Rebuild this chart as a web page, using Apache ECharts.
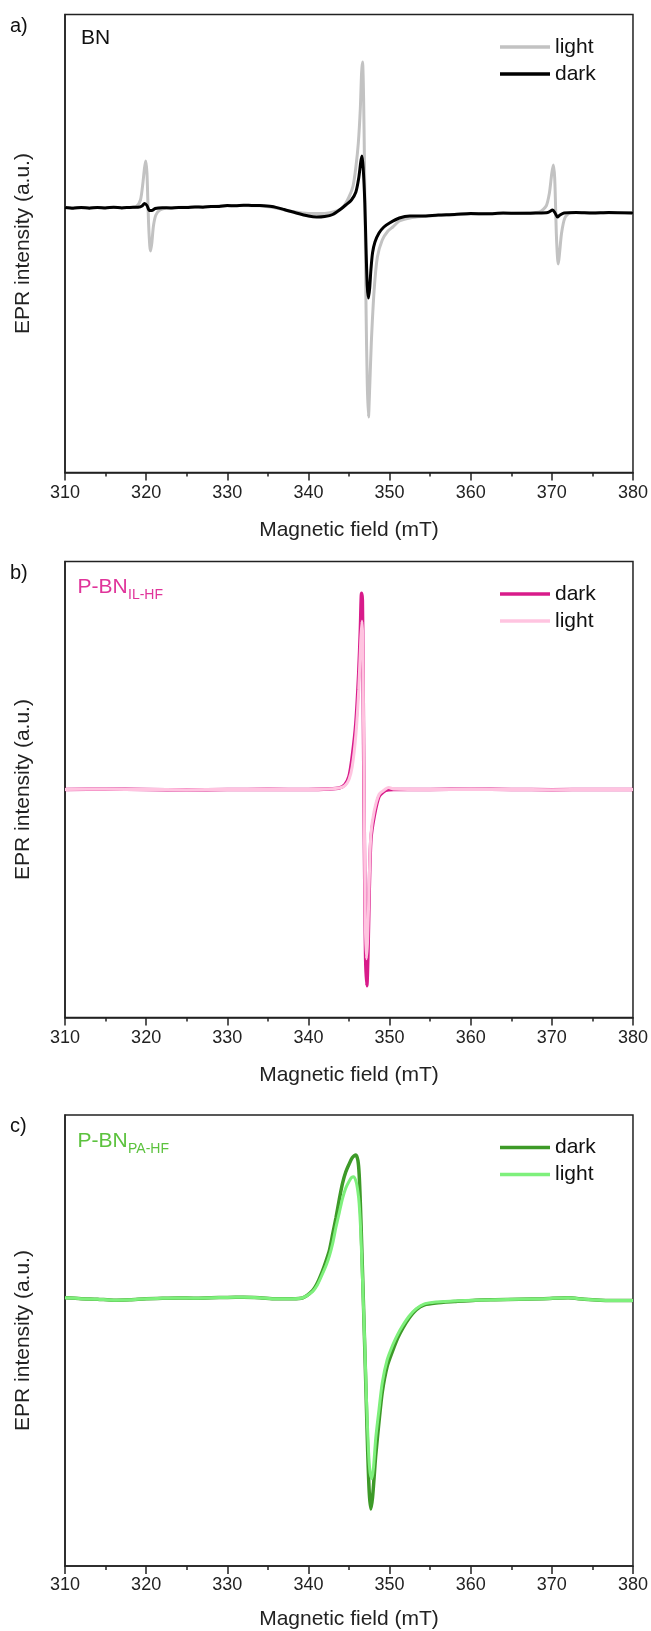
<!DOCTYPE html>
<html>
<head>
<meta charset="utf-8">
<script src="https://cdn.jsdelivr.net/npm/echarts@6/dist/echarts.min.js"></script>
<style>
  html, body { margin: 0; padding: 0; background: #fff; }
  #chart { width: 651px; height: 1631px; }
</style>
</head>
<body>
<div id="chart"></div>
<script>
// ---------------- DATA (magnetic field in mT, EPR intensity in a.u.) ----------------
const xTicks = [310, 320, 330, 340, 350, 360, 370, 380];

// Panel a) BN
const bnLight = [
  [310,0.5],[312,0.3],[314,0.6],[316,0.4],[318,0.5],[318.8,1.5],[319.3,8],[319.6,25],[319.8,40],[319.95,47],
  [320.1,35],[320.2,10],[320.3,-15],[320.45,-38],[320.55,-43],[320.7,-35],[320.9,-18],[321.2,-7],[321.7,-2],[322.5,0],
  [325,0.8],[328,1.5],[331,2.5],[334,2.3],[336,0],[338,-3.5],[340,-5.5],[342,-5.5],[343.5,-3],[344.3,1],
  [345,11],[345.5,22],[345.85,41],[346.15,65],[346.4,100],[346.55,135],[346.67,146],[346.8,110],[346.9,50],[347.0,-20],
  [347.1,-100],[347.25,-175],[347.4,-209],[347.55,-180],[347.75,-135],[348.1,-82],[348.5,-49],[349.1,-32],[349.8,-23],[350.4,-19],
  [351.2,-13],[352.5,-10],[354,-8.5],[356,-7.5],[360,-6],[364,-5.5],[367,-5],[368.5,-4],[369.3,2],[369.7,15],
  [370,35],[370.2,43],[370.35,30],[370.45,5],[370.55,-25],[370.7,-50],[370.8,-56],[370.95,-45],[371.2,-25],[371.6,-10],
  [372.2,-5],[373.5,-4.5],[376,-4.8],[380,-5]
];
const bnDark = [
  [310,0.5],[311,-0.3],[312,0.6],[313,-0.2],[314,0.5],[315,0],[316,0.8],[317,0.1],[318,0.6],[319,0.8],[319.5,2],[319.8,4.5],
  [320.1,2.5],[320.4,-2.5],[320.7,-2.5],[321.1,-0.5],[322,0.3],[323,0.1],[324,0.6],[325,0.4],[326,1],[327,0.8],[328,1.5],[329,1.6],
  [330,2.5],[331,2.2],[332,2.8],[333,2.6],[334,2.5],[335.5,1.5],[337,-1.5],[338.5,-5],[340,-8],[341,-9],[342,-8.5],[343,-6.5],
  [344,-1],[344.6,3],[345.3,8],[345.85,16],[346.2,30],[346.45,46],[346.6,52],[346.75,40],[346.95,5],[347.1,-40],
  [347.25,-78],[347.4,-90],[347.55,-80],[347.7,-62],[347.9,-45],[348.2,-34],[348.7,-25],[349.3,-19],[350,-15],[351.2,-10],
  [352.5,-8],[354,-8],[356,-7],[358,-6.5],[360,-5.5],[362,-5.8],[364,-5],[366,-5.3],[368,-5],[369.5,-4.5],
  [370.1,-2],[370.4,-5],[370.7,-9],[371.0,-7],[371.5,-5],[373,-4.5],[375,-5],[377,-4.5],[380,-5]
];

// Panel b) P-BN IL-HF
const ilDark = [
  [310,0],[315,0.3],[320,0],[325,-0.3],[330,0],[335,0.2],[340,0],[342.5,0.5],[343.8,1.5],[344.5,5],
  [345.0,13],[345.4,33],[345.85,67],[346.2,117],[346.4,160],[346.55,197],[346.65,190],[346.75,100],[346.85,-10],[346.95,-100],
  [347.05,-170],[347.2,-197],[347.35,-160],[347.5,-100],[347.7,-50],[348.1,-27],[348.7,-7],[349.5,-1],[350.5,0],[355,0],
  [360,0.3],[365,0],[370,-0.2],[375,0],[380,0]
];
const ilLight = [
  [310,0],[315,0.2],[320,0],[325,-0.2],[330,0],[335,0.2],[340,0],[342.5,0.5],[343.8,1.5],[344.5,4],
  [345.0,10],[345.4,23],[345.85,55],[346.2,100],[346.45,150],[346.6,169],[346.7,150],[346.8,60],[346.9,-40],[347.0,-130],
  [347.15,-170],[347.3,-150],[347.5,-90],[347.7,-45],[348.1,-22],[348.7,-5],[349.5,0.5],[349.9,2],[350.5,0.5],[355,0],
  [360,0.2],[365,0],[370,-0.2],[375,0],[380,0]
];

// Panel c) P-BN PA-HF
const paDark = [
  [310,0.5],[312,-0.5],[314,-1],[316,-2],[318,-1.5],[320,-0.5],[322,0],[324,0.3],[326,0],[328,0.5],
  [330,0.8],[332,1],[334,0.5],[336,-0.5],[338,-0.5],[339.3,0.5],[340.5,8],[341.1,16],[341.7,28],[342.2,40],
  [342.6,51],[343.0,68],[343.4,85],[343.8,104],[344.2,121],[344.6,133],[345.0,141],[345.4,148],[345.85,151],[346.1,145],
  [346.25,131],[346.4,100],[346.55,60],[346.7,18],[346.9,-40],[347.1,-99],[347.3,-160],[347.5,-205],[347.7,-222],[347.9,-210],
  [348.1,-188],[348.3,-165],[348.7,-130],[349.1,-99],[349.7,-72],[350.4,-55],[351,-42],[351.6,-32],[352.4,-21],[353.3,-12],
  [354.3,-7],[355.7,-5],[358,-3.5],[360.6,-2],[363,-1.5],[366,-1],[369,-0.5],[372,0.5],[374,-1],[376,-2],
  [378,-2.5],[380,-2.5]
];
const paLight = [
  [310,0.5],[312,-0.5],[314,-1],[316,-2],[318,-1.5],[320,-0.5],[322,0],[324,0.3],[326,0],[328,0.5],
  [330,0.8],[332,1],[334,0.5],[336,-0.5],[338,-0.5],[339.3,0.5],[340.5,7],[341.1,14],[341.7,25],[342.2,35],
  [342.6,45],[343.0,58],[343.4,75],[343.8,90],[344.2,105],[344.6,116],[345.0,123],[345.3,127],[345.6,128],[345.9,122],
  [346.1,112],[346.25,100],[346.45,70],[346.6,35],[346.75,0],[346.95,-50],[347.15,-105],[347.4,-160],[347.6,-184],[347.8,-190],
  [348.0,-180],[348.3,-147],[348.7,-117],[349.1,-89],[349.7,-65],[350.4,-49],[351,-38],[351.6,-29],[352.4,-19],[353.3,-11],
  [354.3,-6],[355.7,-4],[358,-3],[360.6,-2],[363,-1.5],[366,-1],[369,-0.5],[372,0.5],[374,-1],[376,-2],
  [378,-2.5],[380,-2.5]
];

// y ranges (a.u.) for the three panels
const yRangeA = [-264.5, 193.5];
const yRangeB = [-229, 229];
const yRangeC = [-282, 193];

// ---------------- CHART ----------------
const FONT = '"Liberation Sans", Arial, sans-serif';
const AXIS = '#222';
const chart = echarts.init(document.getElementById('chart'), null, { renderer: 'canvas' });

const tops = [14.5, 561.5, 1115];
const heights = [458, 456, 456];
const titleGaps = [47, 47, 43];
const labelMargins = [12, 12, 10];

function grid(i) {
  return { left: 65, right: 16.5, top: tops[i], height: heights[i], show: true, borderColor: AXIS, borderWidth: 1.5, backgroundColor: 'transparent' };
}
function xAxis(i) {
  return {
    type: 'value', gridIndex: i, min: 310, max: 380, interval: 10,
    name: 'Magnetic field (mT)', nameLocation: 'middle', nameGap: titleGaps[i],
    nameTextStyle: { fontFamily: FONT, fontSize: 21, color: AXIS },
    axisLine: { show: true, onZero: false, lineStyle: { color: AXIS, width: 1.5 } },
    axisTick: { show: true, inside: false, length: 8, lineStyle: { color: AXIS, width: 1.5 } },
    minorTick: { show: true, splitNumber: 2, length: 4, lineStyle: { color: AXIS, width: 1.5 } },
    axisLabel: { fontFamily: FONT, fontSize: 18, color: AXIS, margin: labelMargins[i],
      formatter: v => (xTicks.indexOf(v) >= 0 ? String(v) : '') },
    splitLine: { show: false }, minorSplitLine: { show: false }
  };
}
function yAxis(i, r) {
  return {
    type: 'value', gridIndex: i, min: r[0], max: r[1],
    name: 'EPR intensity (a.u.)', nameLocation: 'middle', nameGap: 31,
    nameTextStyle: { fontFamily: FONT, fontSize: 21, color: AXIS },
    axisLine: { show: true, onZero: false, lineStyle: { color: AXIS, width: 1.5 } },
    axisTick: { show: false }, axisLabel: { show: false }, splitLine: { show: false }
  };
}
function line(name, i, data, color, width) {
  return { type: 'line', name: name, xAxisIndex: i, yAxisIndex: i, data: data,
    showSymbol: false, symbol: 'none', smooth: 0.25, animation: false,
    lineStyle: { color: color, width: width }, itemStyle: { color: color } };
}
function legend(i, names) {
  return {
    left: 500, top: tops[i] + 19.5, orient: 'vertical', padding: 0, itemGap: 1,
    itemWidth: 50, itemHeight: 3.5, icon: 'rect', data: names,
    formatter: n => n.split('|')[1],
    textStyle: { fontFamily: FONT, fontSize: 21, color: '#111', lineHeight: 26, padding: [0, 0, 0, 0] },
    selectedMode: false
  };
}
function txt(x, y, s, size, color) {
  return { type: 'text', x: x, y: y, silent: true,
    style: { text: s, font: size + 'px ' + FONT, fill: color, align: 'left', verticalAlign: 'middle' } };
}

const PINK_LABEL = '#e0349a';
const GREEN_LABEL = '#5cc23e';

chart.setOption({
  animation: false,
  backgroundColor: '#fff',
  grid: [grid(0), grid(1), grid(2)],
  xAxis: [xAxis(0), xAxis(1), xAxis(2)],
  yAxis: [yAxis(0, yRangeA), yAxis(1, yRangeB), yAxis(2, yRangeC)],
  legend: [
    legend(0, ['a|light', 'a|dark']),
    legend(1, ['b|dark', 'b|light']),
    legend(2, ['c|dark', 'c|light'])
  ],
  series: [
    line('a|light', 0, bnLight, '#c2c2c2', 3),
    line('a|dark', 0, bnDark, '#000000', 3),
    line('b|dark', 1, ilDark, '#d81b8a', 3.5),
    line('b|light', 1, ilLight, '#ffc4e0', 3),
    line('c|dark', 2, paDark, '#3d9a28', 3.5),
    line('c|light', 2, paLight, '#7ef07c', 3)
  ],
  graphic: [
    txt(10, tops[0] + 11.5, 'a)', 20, '#111'),
    txt(10, tops[1] + 11.5, 'b)', 20, '#111'),
    txt(10, tops[2] + 11.5, 'c)', 20, '#111'),
    txt(81, tops[0] + 23.5, 'BN', 21, '#111'),
    txt(77.6, tops[1] + 26, 'P-BN', 21, PINK_LABEL),
    txt(128, tops[1] + 34, 'IL-HF', 14, PINK_LABEL),
    txt(77.6, tops[2] + 26.5, 'P-BN', 21, GREEN_LABEL),
    txt(128, tops[2] + 34.5, 'PA-HF', 14, GREEN_LABEL)
  ]
});
</script>
</body>
</html>
